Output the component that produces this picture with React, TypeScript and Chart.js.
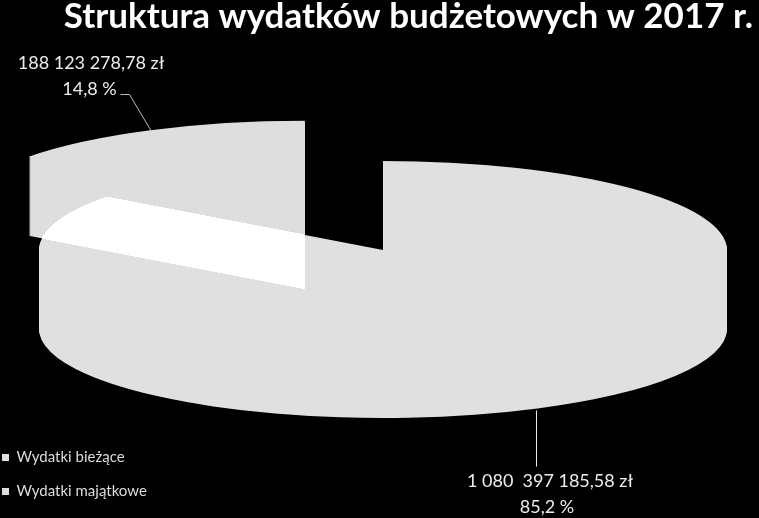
import { useEffect, useRef } from "react";
import { Chart, registerables } from "chart.js";

Chart.register(...registerables);

const categories = ["Wydatki bieżące", "Wydatki majątkowe"];
const amounts = [1080397185.58, 188123278.78];
const amountLabels = ["1 080  397 185,58 zł", "188 123 278,78 zł"];
const shareLabels = ["85,2 %", "14,8 %"];

// how far each slice is pulled out of the pie, as a share of the radius
const explode = [0, 0.506];

const FONT = "Lato, sans-serif";

// the flattened 3D look: ellipse of the top face and height of the wall
const pie = { cx: 383, cy: 250, rx: 344, ry: 89, depth: 79 };

const labelBoxes = [
  { x: 550, y1: 481.5, x2: 547, y2: 507 },
  { x: 91, y1: 63, x2: 89.5, y2: 89 },
];
const leaders = [
  { points: [[536, 410], [536, 466]], color: "#e8e8e8" },
  { points: [[120, 94], [129, 94], [151, 131]], color: "#bdbdbd" },
];

const flatPiePlugin = {
  id: "flatPie",
  beforeDatasetsDraw(chart: any) {
    const ctx = chart.ctx;
    const dpr = chart.currentDevicePixelRatio;
    const arcs = chart.getDatasetMeta(0).data;

    arcs.forEach((arc: any, i: number) => {
      const off = document.createElement("canvas");
      off.width = chart.canvas.width;
      off.height = chart.canvas.height;
      const o = off.getContext("2d")!;
      const R = arc.outerRadius;
      const mid = (arc.startAngle + arc.endAngle) / 2;
      for (let dy = pie.depth; dy >= 0; dy--) {
        o.save();
        o.scale(dpr, dpr);
        o.translate(pie.cx, pie.cy + dy);
        o.scale(pie.rx / R, pie.ry / R);
        o.translate(Math.cos(mid) * explode[i] * R, Math.sin(mid) * explode[i] * R);
        o.translate(-arc.x, -arc.y);
        arc.draw(o);
        o.restore();
      }
      // the slices are see-through: where they overlap it goes nearly white
      ctx.save();
      ctx.setTransform(1, 0, 0, 1, 0, 0);
      ctx.globalCompositeOperation = "lighter";
      ctx.drawImage(off, 0, 0);
      ctx.restore();
    });

    // leader lines and value labels
    ctx.save();
    ctx.lineWidth = 1;
    leaders.forEach((l) => {
      ctx.strokeStyle = l.color;
      ctx.beginPath();
      l.points.forEach(([x, y], k) => (k ? ctx.lineTo(x + 0.5, y + 0.5) : ctx.moveTo(x + 0.5, y + 0.5)));
      ctx.stroke();
    });
    ctx.fillStyle = "#ececec";
    ctx.font = `18px ${FONT}`;
    ctx.textAlign = "center";
    ctx.textBaseline = "middle";
    labelBoxes.forEach((b, i) => {
      ctx.fillText(amountLabels[i], b.x, b.y1);
      ctx.fillText(shareLabels[i], b.x2, b.y2);
    });
    ctx.restore();
    return false;
  },
};

export default function App() {
  const canvasRef = useRef<HTMLCanvasElement>(null);

  useEffect(() => {
    if (!canvasRef.current) return;
    const chart = new Chart(canvasRef.current, {
      type: "pie",
      data: {
        labels: categories,
        datasets: [
          {
            data: amounts,
            backgroundColor: ["#e0e0e0", "#dedede"],
            borderWidth: 0,
          },
        ],
      },
      options: {
        responsive: false,
        animation: false,
        layout: { padding: { left: -17, right: 6 } },
        plugins: {
          title: {
            display: true,
            text: "Struktura wydatków budżetowych w 2017 r.",
            align: "end",
            color: "#ffffff",
            font: { family: FONT, size: 35, weight: "bold" },
            padding: { top: -4, bottom: 0 },
            fullSize: true,
          },
          legend: {
            position: "left",
            align: "end",
            labels: {
              color: "#dcdcdc",
              font: { family: FONT, size: 15 },
              boxWidth: 7,
              boxHeight: 7,
              padding: 19,
            },
          },
          tooltip: { enabled: false },
        },
      },
      plugins: [flatPiePlugin],
    } as any);
    return () => chart.destroy();
  }, []);

  return (
    <div style={{ position: "absolute", left: 0, top: 0, width: 759, height: 518, background: "#000" }}>
      <canvas ref={canvasRef} width={759} height={518} style={{ display: "block" }} />
    </div>
  );
}
